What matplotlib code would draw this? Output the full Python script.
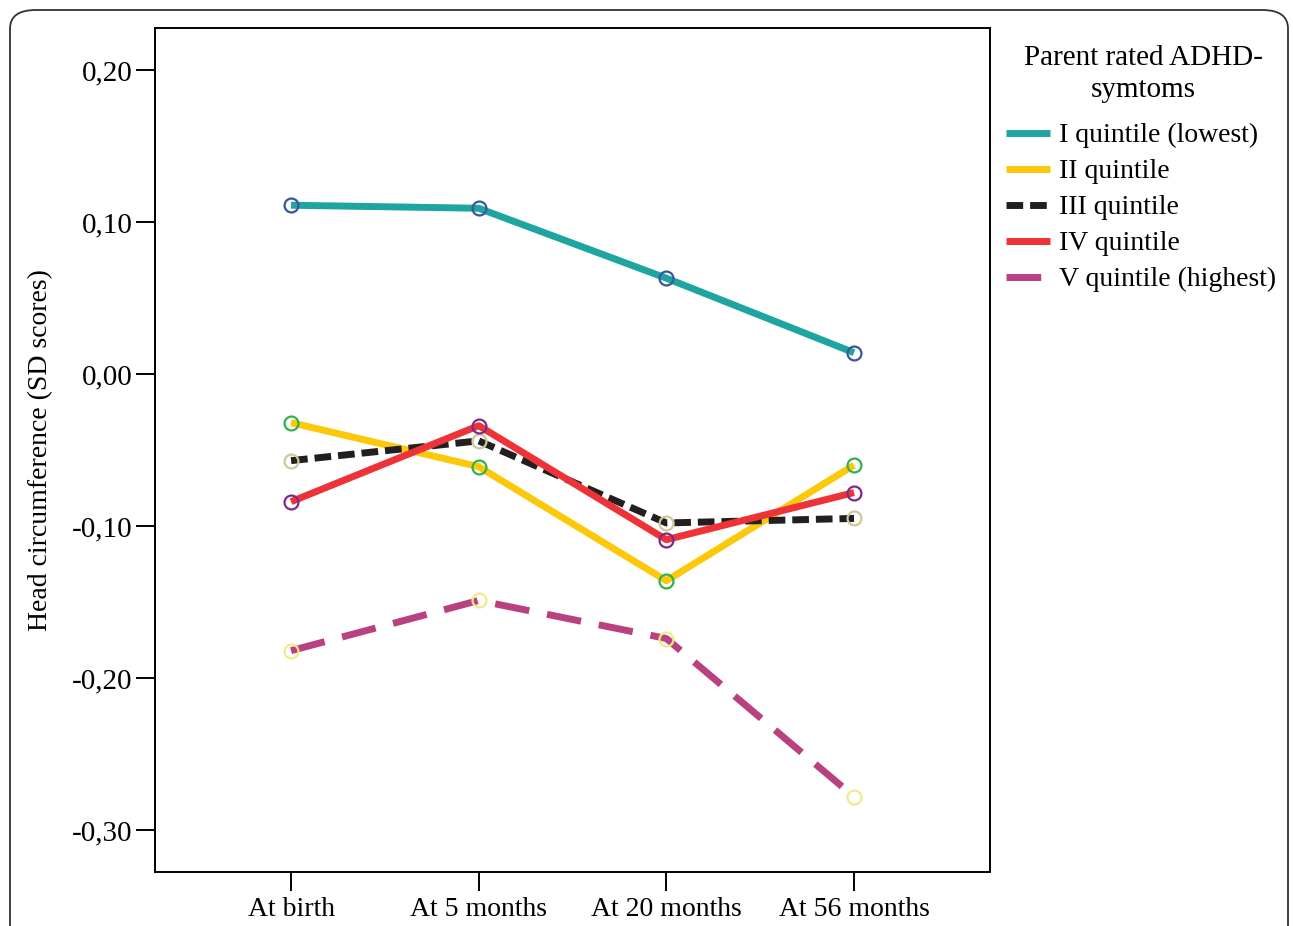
import matplotlib.pyplot as plt
from matplotlib.patches import FancyBboxPatch

plt.rcParams['font.family'] = ['Liberation Serif', 'DejaVu Serif']

# time points and group means (SD scores)
timepoints = ['At birth', 'At 5 months', 'At 20 months', 'At 56 months']
q1 = [0.111, 0.109, 0.063, 0.014]
q2 = [-0.032, -0.061, -0.136, -0.060]
q3 = [-0.057, -0.044, -0.098, -0.095]
q4 = [-0.084, -0.034, -0.109, -0.078]
q5 = [-0.182, -0.149, -0.174, -0.278]

labels = ['I quintile (lowest)', 'II quintile', 'III quintile', 'IV quintile', 'V quintile (highest)']
line_colors = ['#1fa5a0', '#fcc80a', '#231f20', '#ee3338', '#b9417f']
marker_colors = ['#3a55a0', '#2db34a', '#cfc89a', '#7b2a8c', '#f2ea8a']
dashes = [None, None, (2.4, 1.0), None, (5.0, 2.6)]
yticks = [0.20, 0.10, 0.00, -0.10, -0.20, -0.30]

fig = plt.figure(figsize=(12.93, 9.26), dpi=100)
ax = fig.add_axes([0.1199, 0.0583, 0.6458, 0.9115])

# rounded frame around the whole figure
frame = FancyBboxPatch((10 / 1293, -0.05), 1278 / 1293, (926 - 10) / 926 + 0.05,
                       boxstyle='round,pad=0,rounding_size=0.02',
                       transform=fig.transFigure, fill=False, ec='#333333', lw=1.3,
                       clip_on=False)
fig.patches.append(frame)

x = list(range(len(timepoints)))
for vals, lab, lc, mc, ds in zip([q1, q2, q3, q4, q5], labels, line_colors, marker_colors, dashes):
    ln, = ax.plot(x, vals, color=lc, lw=5, label=lab, solid_capstyle='butt')
    if ds is not None:
        ln.set_dashes(ds)
    ax.plot(x, vals, ls='none', marker='o', ms=10, mfc='none', mec=mc, mew=1.6)

ax.set_xlim(-0.725, 3.725)
ax.set_ylim(-0.3276, 0.2276)
ax.set_xticks(x)
ax.set_xticklabels(timepoints, fontsize=20)
ax.set_yticks(yticks)
ax.set_yticklabels([('%.2f' % v).replace('.', ',') for v in yticks], fontsize=21)
ax.tick_params(direction='out', length=14, width=1.4, pad=2)
ax.tick_params(axis='x', pad=4)
for s in ax.spines.values():
    s.set_linewidth(1.4)
ax.set_ylabel('Head circumference (SD scores)', fontsize=20, labelpad=14)

# legend title as separate text, entries below
fig.text(1143 / 1293, 1 - 74 / 926, 'Parent rated ADHD-\nsymtoms', ha='center', va='center',
         fontsize=21, linespacing=1.28)
leg = ax.legend(loc='upper left', bbox_to_anchor=(1006 / 1293, 1 - 123 / 926),
                bbox_transform=fig.transFigure, frameon=False,
                fontsize=20, handlelength=1.6, handletextpad=0.3, labelspacing=0.38,
                borderaxespad=0, borderpad=0)

fig.savefig('out.png', dpi=100)
